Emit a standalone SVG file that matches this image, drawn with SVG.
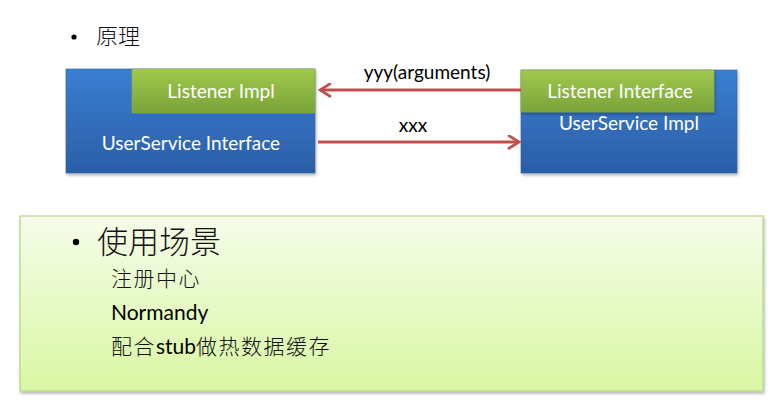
<svg xmlns="http://www.w3.org/2000/svg" width="776" height="420" viewBox="0 0 776 420">
<defs>
<linearGradient id="blue" x1="0" y1="0" x2="0" y2="1"><stop offset="0" stop-color="#3a7fd2"/><stop offset="1" stop-color="#2b5ea7"/></linearGradient>
<linearGradient id="green" x1="0" y1="0" x2="0" y2="1"><stop offset="0" stop-color="#a0c94c"/><stop offset="1" stop-color="#7aa33a"/></linearGradient>
<linearGradient id="lime" x1="0" y1="0" x2="0" y2="1"><stop offset="0" stop-color="#f5fce9"/><stop offset="1" stop-color="#d9f7a3"/></linearGradient>
<filter id="sh" x="-5%" y="-5%" width="110%" height="115%"><feDropShadow dx="1" dy="2" stdDeviation="1.5" flood-color="#000" flood-opacity="0.3"/></filter>
<marker id="ah" viewBox="0 0 12 12" refX="10" refY="6" markerWidth="5" markerHeight="5" orient="auto" markerUnits="strokeWidth"><path d="M2,1 L10,6 L2,11" fill="none" stroke="#c0504d" stroke-width="2.2" stroke-linecap="round"/></marker>
<style>
.lbl{font-family:Lato,"Open Sans","Liberation Sans",sans-serif;fill:#fff;font-size:19px;text-anchor:middle}
.blk{font-family:Lato,"Open Sans","Liberation Sans",sans-serif;fill:#000;font-size:19px;text-anchor:middle}
.cjk{font-family:"Noto Sans CJK SC",sans-serif;fill:#111;font-weight:300}
.sub{font-family:Lato,"Noto Sans CJK SC",sans-serif;fill:#000;font-size:21px}
.ls{letter-spacing:1.5px}
.conn{stroke:#c0504d;stroke-width:3;fill:none}
</style>
</defs>
<rect width="776" height="420" fill="#fff"/>
<g id="title">
<circle cx="74" cy="37" r="2.6" fill="#000"/>
<text x="96" y="44" class="cjk" font-size="22">原理</text>
</g>
<g id="userservice-interface">
<rect x="66" y="69" width="249" height="104" fill="url(#blue)" stroke="#2d5f9e" stroke-width="0.6" filter="url(#sh)"/>
<text x="191" y="150" class="lbl">UserService Interface</text>
</g>
<g id="listener-impl">
<rect x="132" y="69" width="183" height="44" fill="url(#green)" stroke="#86ad3f" stroke-width="0.6"/>
<text x="221" y="98" class="lbl">Listener Impl</text>
</g>
<g id="userservice-impl">
<rect x="521" y="70" width="216" height="103" fill="url(#blue)" stroke="#2d5f9e" stroke-width="0.6" filter="url(#sh)"/>
<text x="629" y="130" class="lbl">UserService Impl</text>
</g>
<g id="listener-interface">
<rect x="521" y="70" width="193" height="42" fill="url(#green)" stroke="#86ad3f" stroke-width="0.6" filter="url(#sh)"/>
<text x="620" y="98" class="lbl">Listener Interface</text>
</g>
<g id="connectors">
<line x1="521" y1="90" x2="320" y2="90" class="conn" marker-end="url(#ah)"/>
<text x="427" y="79" class="blk">yyy(arguments)</text>
<line x1="318" y1="142" x2="519" y2="142" class="conn" marker-end="url(#ah)"/>
<text x="413" y="132" class="blk">xxx</text>
</g>
<g id="scenarios">
<rect x="20" y="216" width="743" height="175" fill="url(#lime)" stroke="#b3d58a" stroke-width="1.2" filter="url(#sh)"/>
<circle cx="76" cy="242" r="3.2" fill="#000"/>
<text x="97" y="253" class="cjk" font-size="31">使用场景</text>
<text x="111" y="286" class="cjk ls" font-size="21">注册中心</text>
<text x="111" y="320" class="sub">Normandy</text>
<text x="111" y="354" class="sub"><tspan class="cjk ls">配合</tspan>stub<tspan class="cjk ls">做热数据缓存</tspan></text>
</g>
</svg>
